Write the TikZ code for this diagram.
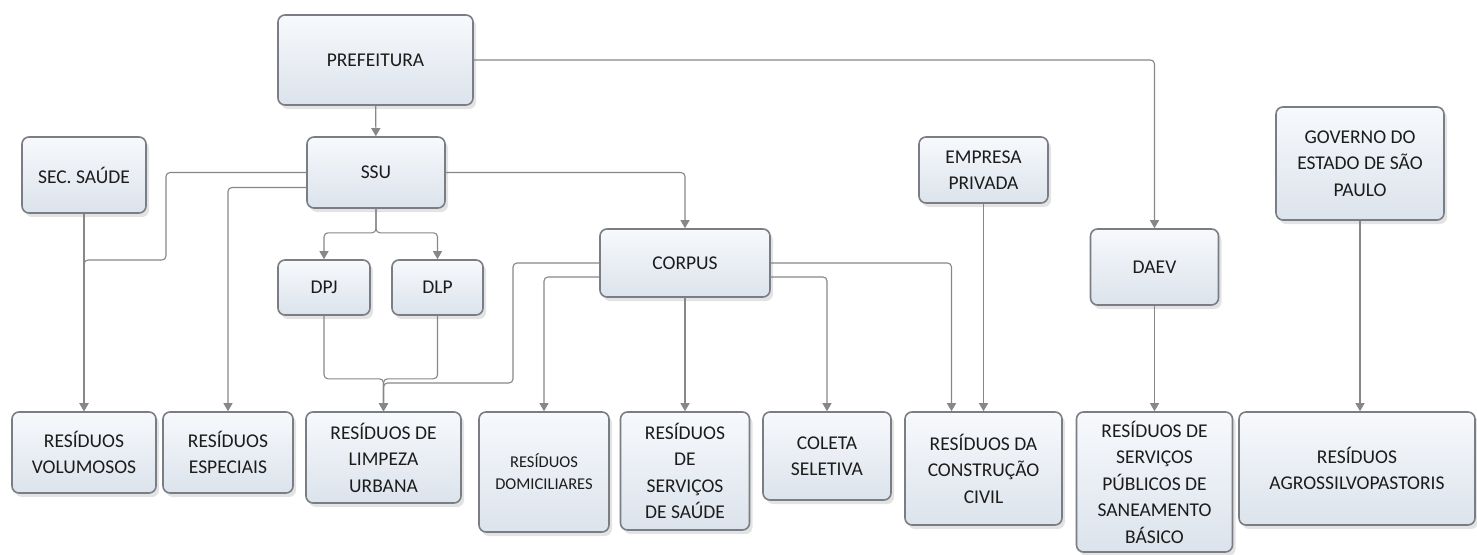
\documentclass[tikz,border=0pt]{standalone}
\usepackage{fontspec}
\setmainfont{Carlito}
\usetikzlibrary{arrows.meta,positioning,shadows}

\definecolor{boxline}{RGB}{122,126,132}
\definecolor{boxtop}{RGB}{247,249,252}
\definecolor{boxbot}{RGB}{220,227,236}
\definecolor{wire}{RGB}{135,135,135}
\definecolor{txt}{RGB}{28,28,28}

\begin{document}
\begin{tikzpicture}[
  x=1pt, y=-1pt,
  font=\fontsize{19.5}{26.5}\selectfont,
  >={Triangle[width=9pt,length=8pt]},
  box/.style={draw=boxline, line width=1.6pt, rounded corners=7pt, align=center, inner sep=2pt,
    top color=boxtop, bottom color=boxbot, text=txt,
    drop shadow={shadow xshift=3pt, shadow yshift=-4pt, opacity=0.22, fill=gray}},
  link/.style={->, draw=wire, line width=1.1pt, rounded corners=4pt}
]
\useasboundingbox (0,0) rectangle (1477,554);

% top level
\node[box, minimum width=195pt, minimum height=90pt] (pref) at (375.5,60) {PREFEITURA};
\node[box, minimum width=138pt, minimum height=71pt] (ssu) at (376,172.5) {SSU};
\node[box, minimum width=124pt, minimum height=76pt] (sec) at (84,175) {SEC. SAÚDE};
\node[box, minimum width=92pt, minimum height=55pt] (dpj) at (324,287.5) {DPJ};
\node[box, minimum width=91pt, minimum height=55pt] (dlp) at (437.5,287.5) {DLP};
\node[box, minimum width=170pt, minimum height=68pt] (corpus) at (685,263) {CORPUS};
\node[box, minimum width=129pt, minimum height=66pt] (empresa) at (983.5,170) {EMPRESA\\PRIVADA};
\node[box, minimum width=128pt, minimum height=76pt] (daev) at (1154.5,267) {DAEV};
\node[box, minimum width=168pt, minimum height=113pt] (gov) at (1360,163.5) {GOVERNO DO\\ESTADO DE SÃO\\PAULO};

% waste types
\node[box, minimum width=144pt, minimum height=81pt] (volum) at (84,452.5) {RESÍDUOS\\VOLUMOSOS};
\node[box, minimum width=130pt, minimum height=81pt] (espec) at (228,452.5) {RESÍDUOS\\ESPECIAIS};
\node[box, minimum width=155pt, minimum height=91pt] (limpeza) at (383.5,457.5) {RESÍDUOS DE\\LIMPEZA\\URBANA};
\node[box, minimum width=130pt, minimum height=120pt, font=\fontsize{16.5}{22}\selectfont] (domic) at (544,472) {RESÍDUOS\\DOMICILIARES};
\node[box, minimum width=129pt, minimum height=118pt] (saude) at (685,471) {RESÍDUOS\\DE\\SERVIÇOS\\DE SAÚDE};
\node[box, minimum width=128pt, minimum height=88pt] (coleta) at (827,456) {COLETA\\SELETIVA};
\node[box, minimum width=157pt, minimum height=113pt] (constr) at (983.5,468.5) {RESÍDUOS DA\\CONSTRUÇÃO\\CIVIL};
\node[box, minimum width=156pt, minimum height=140pt] (saneam) at (1154.5,482) {RESÍDUOS DE\\SERVIÇOS\\PÚBLICOS DE\\SANEAMENTO\\BÁSICO};
\node[box, minimum width=236pt, minimum height=113pt] (agro) at (1357,468.5) {RESÍDUOS\\AGROSSILVOPASTORIS};

% connectors
\draw[link] (pref) -- (ssu);
\draw[link] (pref.east) -| (daev);
\draw[link] (ssu.west) -| (166,260) -| (volum);
\draw[link] (sec) -- (volum);
\draw[link] ([yshift=-15pt]ssu.west) -| (espec);
\draw[link] (ssu.east) -| (corpus);
\draw[link] (ssu.south) -- ++(0,24) -| (dpj);
\draw[link] (ssu.south) -- ++(0,24) -| (dlp);
\draw[link] (dpj.south) -- ++(0,63) -| (limpeza);
\draw[link] (dlp.south) -- ++(0,63) -| (limpeza);
\draw[link] (corpus.west) -| (513,383) -| (limpeza);
\draw[link] ([yshift=-14pt]corpus.west) -| (domic);
\draw[link] (corpus) -- (saude);
\draw[link] ([yshift=-14pt]corpus.east) -| (coleta);
\draw[link] (corpus.east) -| ([xshift=-32pt]constr.north);
\draw[link] (empresa) -- (constr);
\draw[link] (daev) -- (saneam);
\draw[link] (gov.south) -- (gov.south |- agro.north);
\end{tikzpicture}
\end{document}
